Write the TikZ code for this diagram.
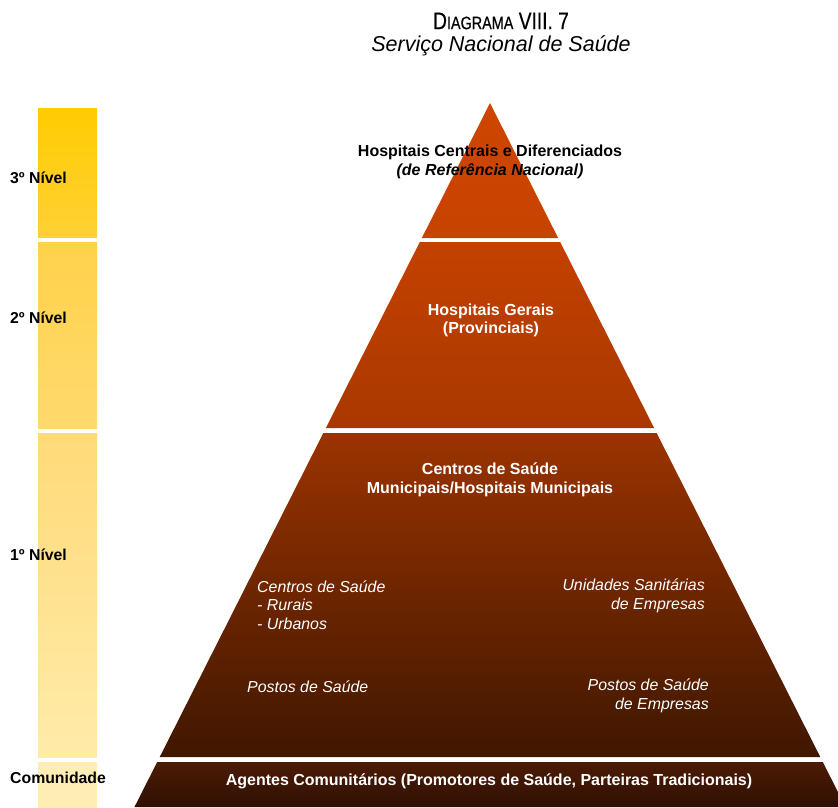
\documentclass[tikz,border=0pt]{standalone}
\usepackage{fontspec}
\setmainfont{Liberation Sans}
\newfontfamily\narrowfont{Liberation Sans}[FakeStretch=0.8,FakeBold=0.5]
\usetikzlibrary{positioning}

% colours of the level bar
\definecolor{barA}{HTML}{FFCC00}
\definecolor{barB}{HTML}{FFD036}
\definecolor{barC}{HTML}{FFD24A}
\definecolor{barD}{HTML}{FFD96E}
\definecolor{barE}{HTML}{FFDA78}
\definecolor{barF}{HTML}{FFEBA9}
\definecolor{barG}{HTML}{FFEEB4}
% colours of the pyramid
\definecolor{tierA}{HTML}{CE4600}
\definecolor{tierB}{HTML}{C84300}
\definecolor{tierC}{HTML}{C44100}
\definecolor{tierD}{HTML}{A93800}
\definecolor{tierE}{HTML}{9B3300}
\definecolor{tierF}{HTML}{3F1700}
\definecolor{tierG}{HTML}{4C1B04}
\definecolor{tierH}{HTML}{2F1004}

\tikzset{
    nivel/.style={font=\bfseries\fontsize{15.8}{18}\selectfont, anchor=west, inner sep=0pt},
    tierlabel/.style={font=\bfseries\fontsize{16}{18.5}\selectfont, text=white, align=center, inner sep=0pt},
    sublabel/.style={font=\itshape\fontsize{15.9}{18.5}\selectfont, text=white, inner sep=0pt},
}

\begin{document}
\begin{tikzpicture}[x=1pt,y=-1pt]

    \clip (0,0) rectangle (838,807);

    % Level bar on the left
    \foreach \ya/\yb/\ctop/\cbot in {108/237/barA/barB, 242/428/barC/barD, 433/757/barE/barF, 762/807/barG/barG}
        \shade[top color=\ctop, bottom color=\cbot] (38,\ya) rectangle (97,\yb);

    % Pyramid tiers (apex at 490,103)
    \foreach \ya/\yb/\ctop/\cbot in {103/238/tierA/tierB, 242/428/tierC/tierD, 433/757/tierE/tierF, 762/807/tierG/tierH}
        \shade[top color=\ctop, bottom color=\cbot]
            ({490-0.505*(\ya-103)},\ya) -- ({490+0.505*(\ya-103)},\ya)
            -- ({490+0.505*(\yb-103)},\yb) -- ({490-0.505*(\yb-103)},\yb) -- cycle;

    % Title
    \node[font=\narrowfont\fontsize{24}{24}\selectfont, inner sep=0pt] (title) at (501,21)
        {D{\fontsize{18}{18}\selectfont IAGRAMA} VIII. 7};
    \node[font=\itshape\fontsize{21.5}{21.5}\selectfont, inner sep=0pt, below=6pt of title] (subtitle)
        {Serviço Nacional de Saúde};

    % Levels
    \node[nivel] (nivel3) at (10,178) {3º Nível};
    \node[nivel] (nivel2) at (10,318) {2º Nível};
    \node[nivel] (nivel1) at (10,555) {1º Nível};
    \node[nivel] (comunidade) at (10,778) {Comunidade};

    % Tier labels
    \node[tierlabel, text=black] (central) at (490,162)
        {Hospitais Centrais e Diferenciados\\\textit{(de Referência Nacional)}};
    \node[tierlabel] (gerais) at (491,320.5) {Hospitais Gerais\\(Provinciais)};
    \node[tierlabel] (municipais) at (490,480) {Centros de Saúde\\Municipais/Hospitais Municipais};
    \node[tierlabel] (agentes) at (489,781)
        {Agentes Comunitários (Promotores de Saúde, Parteiras Tradicionais)};

    % First level units
    \node[sublabel, anchor=west, align=left] (centros) at (257,605) {Centros de Saúde\\- Rurais\\- Urbanos};
    \node[sublabel, anchor=east, align=right] (unidades) at (705,596) {Unidades Sanitárias\\de Empresas};
    \node[sublabel, anchor=west] (postos) at (247,687) {Postos de Saúde};
    \node[sublabel, anchor=east, align=right] (postosemp) at (709,696) {Postos de Saúde\\de Empresas};

\end{tikzpicture}
\end{document}
